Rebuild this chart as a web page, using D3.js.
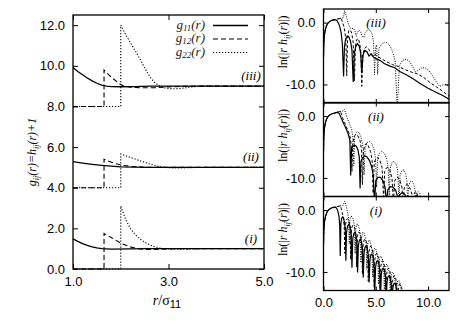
<!DOCTYPE html>
<html>
<head>
<meta charset="utf-8">
<script src="https://cdn.jsdelivr.net/npm/d3@7"></script>
<style>
  body { margin: 0; background: #fff; }
  svg { display: block; }
</style>
</head>
<body>
<svg id="chart" width="463" height="324"></svg>
<script>
// ---------- data ----------
const caseLabels = ["(iii)", "(ii)", "(i)"];
const caseOffsets = [8, 4, 0];
const seriesKeys = ["11", "12", "22"];
const leftXTicks = [1, 3, 5];
const leftYTicks = [0, 2, 4, 6, 8, 10, 12];
const rightXTicks = [0, 5, 10];
const rightYTicks = [0, -10];

// g_ij(r), before the vertical offset of each case
const gIII_11 = [[1.0,1.92],[1.1,1.72],[1.2,1.56],[1.3,1.4],[1.4,1.26],[1.5,1.14],[1.6,1.05],[1.7,1.0],[1.8,0.98],[2.0,0.97],[2.3,0.98],[2.6,1.0],[5,1.0]];
const gIII_12 = [[1.0,0],[1.65,0],[1.65,1.79],[1.75,1.55],[1.85,1.35],[1.95,1.15],[2.05,1.02],[2.2,0.95],[2.4,0.92],[2.7,0.92],[3.0,0.96],[3.3,0.99],[3.6,1.0],[5,1.0]];
const gIII_22 = [[1.0,0],[2.0,0],[2.0,4.0],[2.1,3.55],[2.2,3.15],[2.3,2.75],[2.4,2.35],[2.5,1.9],[2.6,1.5],[2.7,1.2],[2.8,1.02],[2.9,0.92],[3.0,0.88],[3.15,0.87],[3.3,0.9],[3.5,0.96],[3.7,1.0],[5,1.0]];

const gII_11 = [[1.0,1.28],[1.2,1.21],[1.4,1.15],[1.6,1.1],[1.8,1.06],[2.0,1.03],[2.3,1.01],[2.6,1.0],[5,1.0]];
const gII_12 = [[1.0,0],[1.65,0],[1.65,1.4],[1.75,1.3],[1.9,1.18],[2.05,1.1],[2.2,1.05],[2.5,1.01],[3.0,1.0],[5,1.0]];
const gII_22 = [[1.0,0],[2.0,0],[2.0,1.66],[2.2,1.49],[2.4,1.33],[2.6,1.17],[2.8,1.05],[3.0,0.98],[3.2,0.97],[3.5,0.99],[3.8,1.0],[5,1.0]];

const gI_11 = [[1.0,1.48],[1.1,1.36],[1.2,1.25],[1.3,1.16],[1.4,1.09],[1.5,1.04],[1.6,1.0],[1.8,0.98],[2.2,0.99],[2.6,1.0],[5,1.0]];
const gI_12 = [[1.0,0],[1.65,0],[1.65,1.75],[1.8,1.55],[2.0,1.27],[2.2,1.09],[2.35,1.0],[2.5,0.96],[2.7,0.96],[3.0,0.99],[3.3,1.0],[5,1.0]];
const gI_22 = [[1.0,0],[2.0,0],[2.0,3.1],[2.1,2.45],[2.2,2.0],[2.3,1.7],[2.4,1.48],[2.5,1.32],[2.6,1.2],[2.7,1.1],[2.8,1.04],[2.9,1.0],[3.1,0.97],[3.4,0.98],[3.8,1.0],[5,1.0]];

// ln(|r h_ij(r)|): common part inside the core (h = -1), then each tail
const lnCore = [[0.004,-5.6],[0.02,-3.9],[0.05,-2.8],[0.1,-1.9],[0.18,-1.1],[0.28,-0.55],[0.42,-0.1],[0.6,0.2],[0.8,0.38],[1.0,0.45]];

const lnIII_11 = lnCore.concat([[1.15,0.45],[1.3,0.28],[1.45,-0.15],[1.58,-0.8],[1.7,-1.8],[1.8,-3.4],[1.92,-8.7],[2.0,-4.0],[2.1,-2.8],[2.25,-2.2],[2.42,-2.3],[2.58,-3.0],[2.72,-4.4],[2.84,-9.6],[2.95,-5.0],[3.08,-3.9],[3.25,-3.4],[3.42,-3.8],[3.56,-5.0],[3.66,-8.2],[3.78,-5.2],[3.95,-4.5],[4.15,-4.7],[4.35,-5.4],[4.55,-5.1],[4.8,-5.6],[5.1,-5.9],[5.4,-6.1],[5.8,-6.6],[6.3,-7.0],[6.8,-7.3],[7.3,-7.9],[8.0,-8.5],[8.6,-9.1],[9.2,-9.8],[10.0,-10.6],[10.8,-11.3],[11.4,-11.8],[12.0,-12.4]]);
const lnIII_12 = lnCore.concat([[1.2,0.52],[1.45,0.62],[1.65,0.75],[1.72,0.6],[1.82,0.0],[1.95,-0.6],[2.05,-1.5],[2.14,-3.0],[2.22,-8.6],[2.3,-2.4],[2.42,-1.3],[2.56,-1.2],[2.7,-1.7],[2.84,-3.2],[2.96,-9.4],[3.06,-3.6],[3.2,-2.7],[3.34,-2.6],[3.48,-3.5],[3.58,-5.0],[3.66,-10.3],[3.76,-5.2],[3.9,-4.3],[4.1,-3.9],[4.3,-4.2],[4.5,-4.9],[4.7,-5.3],[4.9,-5.1],[5.2,-5.5],[5.6,-5.9],[6.0,-6.3],[6.6,-6.8],[7.2,-7.1],[7.8,-7.6],[8.4,-8.0],[9.0,-8.3],[9.6,-8.9],[10.2,-9.7],[10.8,-10.4],[11.4,-11.1],[12.0,-11.9]]);
const lnIII_22 = lnCore.concat([[1.2,0.52],[1.45,0.62],[1.7,0.72],[1.9,0.8],[2.02,1.95],[2.12,1.4],[2.25,0.6],[2.4,-0.3],[2.55,-0.9],[2.7,-1.0],[2.85,-0.9],[3.0,-1.3],[3.12,-2.2],[3.22,-1.7],[3.38,-1.2],[3.55,-1.5],[3.7,-2.2],[3.85,-2.4],[4.0,-1.6],[4.2,-1.2],[4.4,-1.2],[4.6,-1.6],[4.78,-3.0],[4.88,-8.4],[4.98,-4.0],[5.08,-3.6],[5.18,-8.4],[5.3,-4.2],[5.55,-3.5],[5.8,-3.2],[6.05,-3.2],[6.3,-3.6],[6.6,-4.6],[6.85,-6.2],[7.05,-14],[7.25,-7.0],[7.55,-6.1],[7.9,-5.9],[8.25,-6.3],[8.55,-7.2],[8.8,-8.0],[9.05,-7.7],[9.4,-7.3],[9.7,-7.3],[10.0,-7.6],[10.4,-8.5],[10.8,-9.6],[11.1,-10.3],[11.4,-10.1],[11.7,-10.0],[12.0,-10.2]]);

const lnII_11 = lnCore.concat([[1.15,0.55],[1.35,0.6],[1.5,0.45],[1.66,-0.2],[1.82,-0.8],[1.98,-1.4],[2.15,-2.0],[2.3,-2.6],[2.42,-3.2],[2.52,-4.0],[2.6,-9.6],[2.68,-5.2],[2.82,-4.9],[2.98,-4.7],[3.15,-4.9],[3.3,-5.5],[3.42,-6.6],[3.5,-11.7],[3.58,-7.3],[3.75,-6.7],[3.95,-6.4],[4.15,-6.6],[4.4,-7.2],[4.62,-8.3],[4.75,-9.5],[4.88,-14],[5.0,-10.4],[5.2,-9.9],[5.45,-9.9],[5.7,-10.5],[5.9,-11.6],[6.02,-14],[6.15,-11.9],[6.4,-11.4],[6.65,-11.5],[6.9,-12.0],[7.05,-12.8],[7.12,-14],[7.25,-12.8],[7.5,-12.4],[7.75,-12.6],[7.95,-13.2]]);
const lnII_12 = lnCore.concat([[1.2,0.58],[1.45,0.68],[1.62,0.8],[1.72,0.3],[1.85,-0.4],[2.0,-1.0],[2.15,-1.6],[2.3,-2.2],[2.45,-2.8],[2.58,-3.6],[2.66,-5.0],[2.72,-8.9],[2.8,-4.3],[2.95,-3.2],[3.1,-2.95],[3.3,-3.2],[3.5,-4.0],[3.64,-5.5],[3.72,-11.1],[3.82,-5.6],[3.95,-4.7],[4.1,-4.4],[4.28,-4.8],[4.5,-5.7],[4.65,-7.2],[4.75,-12.5],[4.85,-7.5],[5.0,-6.9],[5.2,-6.7],[5.4,-7.2],[5.6,-8.3],[5.75,-13.5],[5.85,-9.0],[6.0,-8.4],[6.15,-8.3],[6.35,-8.8],[6.55,-10.0],[6.68,-14],[6.8,-10.5],[6.95,-10.0],[7.12,-9.9],[7.3,-10.4],[7.5,-11.5],[7.6,-14],[7.72,-11.6],[7.9,-11.1],[8.05,-11.1],[8.25,-11.6],[8.45,-12.6],[8.55,-14],[8.65,-12.6],[8.8,-12.2],[8.95,-12.5],[9.1,-14]]);
const lnII_22 = lnCore.concat([[1.2,0.58],[1.45,0.68],[1.7,0.78],[1.9,0.85],[2.0,1.1],[2.1,0.6],[2.25,-0.2],[2.4,-0.9],[2.55,-1.5],[2.7,-2.2],[2.8,-3.2],[2.9,-8.0],[2.98,-3.4],[3.1,-2.7],[3.26,-2.5],[3.45,-2.8],[3.62,-3.6],[3.78,-5.0],[3.88,-9.5],[3.98,-5.2],[4.15,-4.3],[4.4,-4.1],[4.65,-4.5],[4.85,-5.5],[4.98,-7.0],[5.08,-11.5],[5.18,-7.0],[5.35,-6.0],[5.6,-5.7],[5.85,-6.1],[6.05,-7.0],[6.2,-8.5],[6.28,-13],[6.38,-8.5],[6.55,-7.5],[6.75,-7.3],[6.95,-7.8],[7.1,-8.8],[7.22,-14],[7.32,-9.6],[7.5,-8.8],[7.68,-8.7],[7.85,-9.3],[7.98,-10.5],[8.05,-14],[8.15,-11.2],[8.3,-10.6],[8.47,-10.5],[8.62,-11.0],[8.75,-12.0],[8.82,-14],[8.92,-12.4],[9.05,-12.2],[9.2,-12.5],[9.35,-14]]);

const lnI_11 = lnCore.concat([[1.15,0.45],[1.27,0.28],[1.38,-0.2],[1.48,-1.0],[1.55,-2.4],[1.6,-7.4],[1.66,-2.2],[1.74,-1.3],[1.84,-1.1],[1.94,-1.4],[2.03,-2.3],[2.1,-3.6],[2.14,-8.2],[2.2,-3.6],[2.3,-2.6],[2.42,-2.3],[2.54,-2.6],[2.64,-3.6],[2.72,-9.3],[2.8,-4.6],[2.9,-3.8],[3.0,-3.6],[3.1,-4.0],[3.19,-5.0],[3.26,-10.1],[3.33,-5.8],[3.42,-4.9],[3.52,-4.7],[3.62,-5.1],[3.72,-6.1],[3.8,-10.9],[3.88,-6.9],[3.97,-6.0],[4.07,-5.8],[4.17,-6.2],[4.28,-7.2],[4.36,-11.7],[4.44,-8.0],[4.53,-7.2],[4.63,-7.1],[4.73,-7.5],[4.83,-8.5],[4.9,-13.5],[4.98,-9.2],[5.08,-8.3],[5.18,-8.2],[5.28,-8.6],[5.38,-9.6],[5.45,-14],[5.53,-10.3],[5.63,-9.5],[5.73,-9.4],[5.83,-9.8],[5.93,-10.8],[6.0,-14],[6.08,-11.5],[6.18,-10.7],[6.28,-10.6],[6.38,-11.0],[6.48,-12.0],[6.55,-14],[6.63,-12.6],[6.73,-11.9],[6.83,-11.8],[6.93,-12.3],[7.03,-13.3]]);
const lnI_12 = lnCore.concat([[1.2,0.55],[1.45,0.62],[1.62,0.7],[1.7,0.2],[1.8,-0.5],[1.9,-1.3],[1.98,-2.6],[2.04,-7.0],[2.1,-2.4],[2.2,-1.5],[2.32,-1.4],[2.44,-1.8],[2.54,-2.8],[2.6,-8.0],[2.67,-3.0],[2.78,-2.5],[2.9,-2.5],[3.0,-3.0],[3.1,-4.0],[3.16,-9.2],[3.23,-4.3],[3.33,-3.6],[3.44,-3.6],[3.55,-4.0],[3.65,-5.2],[3.72,-10.3],[3.79,-5.5],[3.89,-4.8],[4.0,-4.7],[4.11,-5.2],[4.21,-6.3],[4.28,-11.5],[4.35,-6.7],[4.45,-5.9],[4.56,-5.9],[4.67,-6.4],[4.77,-7.4],[4.84,-12.5],[4.91,-8.0],[5.01,-7.1],[5.12,-7.0],[5.23,-7.5],[5.33,-8.6],[5.4,-13.5],[5.47,-9.2],[5.57,-8.3],[5.68,-8.2],[5.79,-8.7],[5.89,-9.8],[5.96,-14],[6.03,-10.4],[6.13,-9.5],[6.24,-9.4],[6.35,-9.9],[6.45,-11.0],[6.52,-14],[6.59,-11.6],[6.69,-10.7],[6.8,-10.6],[6.91,-11.1],[7.01,-12.2],[7.08,-14],[7.15,-12.8],[7.25,-12.0],[7.36,-12.0],[7.47,-12.5],[7.57,-13.5]]);
const lnI_22 = lnCore.concat([[1.2,0.52],[1.45,0.62],[1.7,0.72],[1.9,0.8],[2.02,1.45],[2.12,1.0],[2.22,0.3],[2.32,-0.5],[2.4,-1.4],[2.46,-5.5],[2.53,-1.5],[2.63,-1.0],[2.75,-1.1],[2.86,-1.6],[2.96,-2.6],[3.02,-7.0],[3.09,-2.9],[3.19,-2.3],[3.3,-2.3],[3.41,-2.9],[3.51,-3.9],[3.58,-8.5],[3.65,-4.3],[3.75,-3.6],[3.86,-3.6],[3.97,-4.2],[4.07,-5.2],[4.14,-9.6],[4.21,-5.6],[4.31,-4.9],[4.42,-4.9],[4.53,-5.5],[4.63,-6.5],[4.7,-10.8],[4.77,-7.0],[4.87,-6.2],[4.98,-6.2],[5.09,-6.8],[5.19,-7.8],[5.26,-12],[5.33,-8.3],[5.43,-7.5],[5.54,-7.5],[5.65,-8.1],[5.75,-9.1],[5.82,-13.2],[5.89,-9.6],[5.99,-8.8],[6.1,-8.8],[6.21,-9.4],[6.31,-10.4],[6.38,-14],[6.45,-10.9],[6.55,-10.1],[6.66,-10.1],[6.77,-10.7],[6.87,-11.7],[6.94,-14],[7.01,-12.2],[7.11,-11.4],[7.22,-11.4],[7.33,-12.0],[7.43,-13.0],[7.5,-14]]);

const gByCase = [[gIII_11, gIII_12, gIII_22], [gII_11, gII_12, gII_22], [gI_11, gI_12, gI_22]];
const lnByCase = [[lnIII_11, lnIII_12, lnIII_22], [lnII_11, lnII_12, lnII_22], [lnI_11, lnI_12, lnI_22]];

// ---------- styles ----------
const sansFont = "'Liberation Sans', Arial, Helvetica, sans-serif";
const serifFont = "'Liberation Serif', 'Times New Roman', serif";
const dashLeft = [null, "5,3", "1.2,1.8"];
const dashRight = [null, "3,2", "1,1.4"];
const fmt = (d) => d.toFixed(1);

const svg = d3.select("#chart");
svg.append("rect").attr("width", 463).attr("height", 324).attr("fill", "#fff");

// helper to write g_ij(r) style labels with a subscript
function subText(sel, parts) {
  parts.forEach((p) => {
    const t = sel.append("tspan").text(p.t);
    if (p.sub) t.attr("font-size", p.size || 9).attr("dy", p.dy);
    else if (p.dy) t.attr("dy", p.dy);
    if (p.up) t.attr("font-style", "normal");
    if (p.font) t.attr("font-family", p.font);
  });
}

// ---------- left panel: g_ij(r) ----------
const xL = d3.scaleLinear().domain([1, 5]).range([73, 264]);
const yL = d3.scaleLinear().domain([0, 12.5]).range([269, 15]);

function styleAxis(g, size) {
  g.select(".domain").remove();
  g.selectAll("text").attr("font-family", sansFont).attr("font-size", size).attr("fill", "#000");
  g.selectAll("line").attr("stroke", "#000").attr("stroke-width", 1);
}

svg.append("g").attr("transform", "translate(73,0)")
  .call(d3.axisLeft(yL).tickValues(leftYTicks).tickSizeInner(-5).tickSizeOuter(0).tickPadding(8).tickFormat(fmt))
  .call((g) => styleAxis(g, 13));
svg.append("g").attr("transform", "translate(264,0)")
  .call(d3.axisRight(yL).tickValues(leftYTicks).tickSizeInner(-5).tickSizeOuter(0).tickFormat(""))
  .call((g) => styleAxis(g, 13));
svg.append("g").attr("transform", "translate(0,269)")
  .call(d3.axisBottom(xL).tickValues(leftXTicks).tickSizeInner(-5).tickSizeOuter(0).tickPadding(8).tickFormat(fmt))
  .call((g) => styleAxis(g, 13));
svg.append("g").attr("transform", "translate(0,15)")
  .call(d3.axisTop(xL).tickValues(leftXTicks).tickSizeInner(-5).tickSizeOuter(0).tickFormat(""))
  .call((g) => styleAxis(g, 13));

gByCase.forEach((curves, ci) => {
  const off = caseOffsets[ci];
  const line = d3.line().x((d) => xL(d[0])).y((d) => yL(d[1] + off));
  curves.forEach((pts, si) => {
    svg.append("path")
      .attr("d", line(pts))
      .attr("fill", "none")
      .attr("stroke", "#000")
      .attr("stroke-width", si === 0 ? 1.3 : 1.1)
      .attr("stroke-dasharray", dashLeft[si]);
  });
  svg.append("text")
    .attr("x", 251).attr("y", yL(1 + off) - 6)
    .attr("text-anchor", "middle")
    .attr("font-family", serifFont).attr("font-style", "italic").attr("font-size", 13)
    .text(caseLabels[ci]);
});

svg.append("rect").attr("x", 73).attr("y", 15).attr("width", 191).attr("height", 254)
  .attr("fill", "none").attr("stroke", "#000").attr("stroke-width", 1.3);

// legend
seriesKeys.forEach((k, si) => {
  const ly = 25.5 + si * 13.5;
  const t = svg.append("text")
    .attr("x", 205).attr("y", ly + 3)
    .attr("text-anchor", "end")
    .attr("font-family", serifFont).attr("font-style", "italic").attr("font-size", 13)
    .attr("fill", "#222");
  subText(t, [{ t: "g" }, { t: k, sub: true, dy: 2, size: 9 }, { t: "(r)", dy: -2 }]);
  svg.append("line")
    .attr("x1", 213).attr("x2", 248).attr("y1", ly).attr("y2", ly)
    .attr("stroke", "#000")
    .attr("stroke-width", si === 0 ? 1.3 : 1.1)
    .attr("stroke-dasharray", dashLeft[si]);
});

// axis titles of the left panel
const yTitle = svg.append("text")
  .attr("transform", "translate(36,152) rotate(-90)")
  .attr("text-anchor", "middle")
  .attr("font-family", serifFont).attr("font-style", "italic").attr("font-size", 12);
subText(yTitle, [{ t: "g" }, { t: "ij", sub: true, dy: 3, size: 8 }, { t: "(r)=h", dy: -3 },
  { t: "ij", sub: true, dy: 3, size: 8 }, { t: "(r)+1", dy: -3 }]);

const xTitle = svg.append("text")
  .attr("x", 167).attr("y", 305)
  .attr("text-anchor", "middle")
  .attr("font-family", serifFont).attr("font-size", 14);
subText(xTitle, [{ t: "r" }, { t: "/σ", up: true }, { t: "11", sub: true, dy: 3, size: 11, font: sansFont }]);
xTitle.select("tspan").attr("font-style", "italic");

// ---------- right panels: ln(|r h_ij(r)|) ----------
const xR = d3.scaleLinear().domain([0, 12]).range([323.5, 449]);
const panelTops = [9, 102.5, 196.5];
const panelH = 94;

lnByCase.forEach((curves, ci) => {
  const top = panelTops[ci];
  const yR = d3.scaleLinear().domain([-13, 2.2]).range([top + panelH, top]);

  svg.append("clipPath").attr("id", "clip" + ci)
    .append("rect").attr("x", xR(0)).attr("y", top).attr("width", xR(12) - xR(0)).attr("height", panelH);

  svg.append("g").attr("transform", `translate(${xR(0)},0)`)
    .call(d3.axisLeft(yR).tickValues(rightYTicks).tickSizeInner(-4).tickSizeOuter(0).tickPadding(8).tickFormat(fmt))
    .call((g) => styleAxis(g, 13));
  svg.append("g").attr("transform", `translate(${xR(12)},0)`)
    .call(d3.axisRight(yR).tickValues(rightYTicks).tickSizeInner(-4).tickSizeOuter(0).tickFormat(""))
    .call((g) => styleAxis(g, 13));
  svg.append("g").attr("transform", `translate(0,${top + panelH})`)
    .call(d3.axisBottom(xR).tickValues(rightXTicks).tickSizeInner(-4).tickSizeOuter(0).tickPadding(7)
      .tickFormat(ci === 2 ? fmt : ""))
    .call((g) => styleAxis(g, 13));
  svg.append("g").attr("transform", `translate(0,${top})`)
    .call(d3.axisTop(xR).tickValues(rightXTicks).tickSizeInner(-4).tickSizeOuter(0).tickFormat(""))
    .call((g) => styleAxis(g, 13));

  const line = d3.line().x((d) => xR(d[0])).y((d) => yR(d[1]));
  const g = svg.append("g").attr("clip-path", `url(#clip${ci})`);
  curves.forEach((pts, si) => {
    g.append("path")
      .attr("d", line(pts))
      .attr("fill", "none")
      .attr("stroke", "#000")
      .attr("stroke-width", si === 0 ? 1.2 : 1)
      .attr("stroke-dasharray", dashRight[si]);
  });

  svg.append("rect").attr("x", xR(0)).attr("y", top).attr("width", xR(12) - xR(0)).attr("height", panelH)
    .attr("fill", "none").attr("stroke", "#000").attr("stroke-width", 1.3);

  svg.append("text")
    .attr("x", 376).attr("y", top + 18)
    .attr("text-anchor", "middle")
    .attr("font-family", serifFont).attr("font-style", "italic").attr("font-size", 13)
    .text(caseLabels[ci]);

  const lab = svg.append("text")
    .attr("transform", `translate(287,${top + panelH / 2 - 14}) rotate(-90)`)
    .attr("text-anchor", "middle")
    .attr("font-family", serifFont).attr("font-size", 12);
  subText(lab, [{ t: "ln(|" }, { t: "r h" }, { t: "ij", sub: true, dy: 3, size: 8 }, { t: "(", dy: -3 },
    { t: "r" }, { t: ")|)" }]);
  lab.selectAll("tspan").filter((d, i) => i === 1 || i === 2 || i === 4).attr("font-style", "italic");
});
</script>
</body>
</html>
